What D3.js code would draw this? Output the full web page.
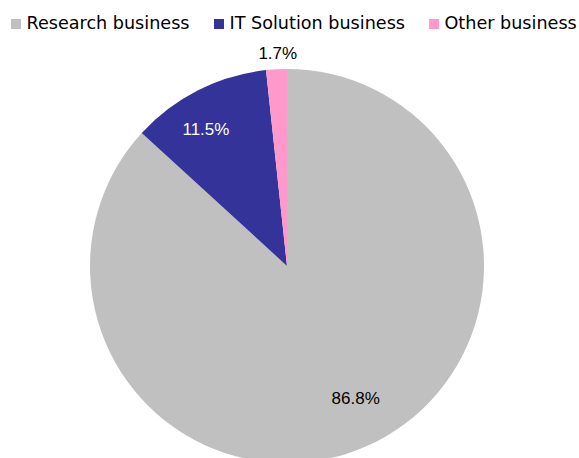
<!DOCTYPE html>
<html><head><meta charset="utf-8">
<script src="https://cdn.jsdelivr.net/npm/d3@7"></script>
<style>html,body{margin:0;padding:0;background:#fff;}svg{display:block;}</style>
</head><body>
<svg id="chart" width="579" height="458"></svg>
<script>
const categories = ["Research business", "IT Solution business", "Other business"];
const values = [86.8, 11.5, 1.7];
const labels = ["86.8%", "11.5%", "1.7%"];
const colors = ["#C0C0C0", "#333399", "#FF99CC"];
const labelColors = ["#000000", "#FFFFFF", "#000000"];

const svg = d3.select("#chart");
const cx = 287, cy = 266, R = 197;
const labelFont = "'Liberation Sans', Arial, sans-serif";
const legendFont = "'DejaVu Sans', sans-serif";

const pie = d3.pie().sort(null).value(d => d);
const arcs = pie(values);
const arc = d3.arc().innerRadius(0).outerRadius(R);

const g = svg.append("g").attr("transform", `translate(${cx},${cy})`);
g.selectAll("path").data(arcs).enter().append("path")
  .attr("d", arc).attr("fill", (d, i) => colors[i]);

// label placement (layout constants): radius and small angular shift per slice
const labelRadius = [149, 159, 213];
const labelShift = [-0.064, -0.067, 0.01];
g.selectAll("text.lbl").data(arcs).enter().append("text")
  .attr("class", "lbl")
  .attr("transform", (d, i) => {
    const a = (d.startAngle + d.endAngle) / 2 + labelShift[i];
    const r = labelRadius[i];
    return `translate(${r * Math.sin(a)},${-r * Math.cos(a)})`;
  })
  .attr("text-anchor", "middle").attr("dy", "0.36em")
  .attr("font-family", labelFont).attr("font-size", 17)
  .attr("fill", (d, i) => labelColors[i])
  .text((d, i) => labels[i]);

// legend
const legX = [11, 214, 429];
const legend = svg.append("g");
categories.forEach((c, i) => {
  const lg = legend.append("g").attr("transform", `translate(${legX[i]},0)`);
  lg.append("rect").attr("x", 0).attr("y", 19).attr("width", 10).attr("height", 10).attr("fill", colors[i]);
  lg.append("text").attr("x", 15.5).attr("y", 29)
    .attr("font-family", legendFont).attr("font-size", 17.6).attr("fill", "#000").text(c);
});
</script>
</body></html>
